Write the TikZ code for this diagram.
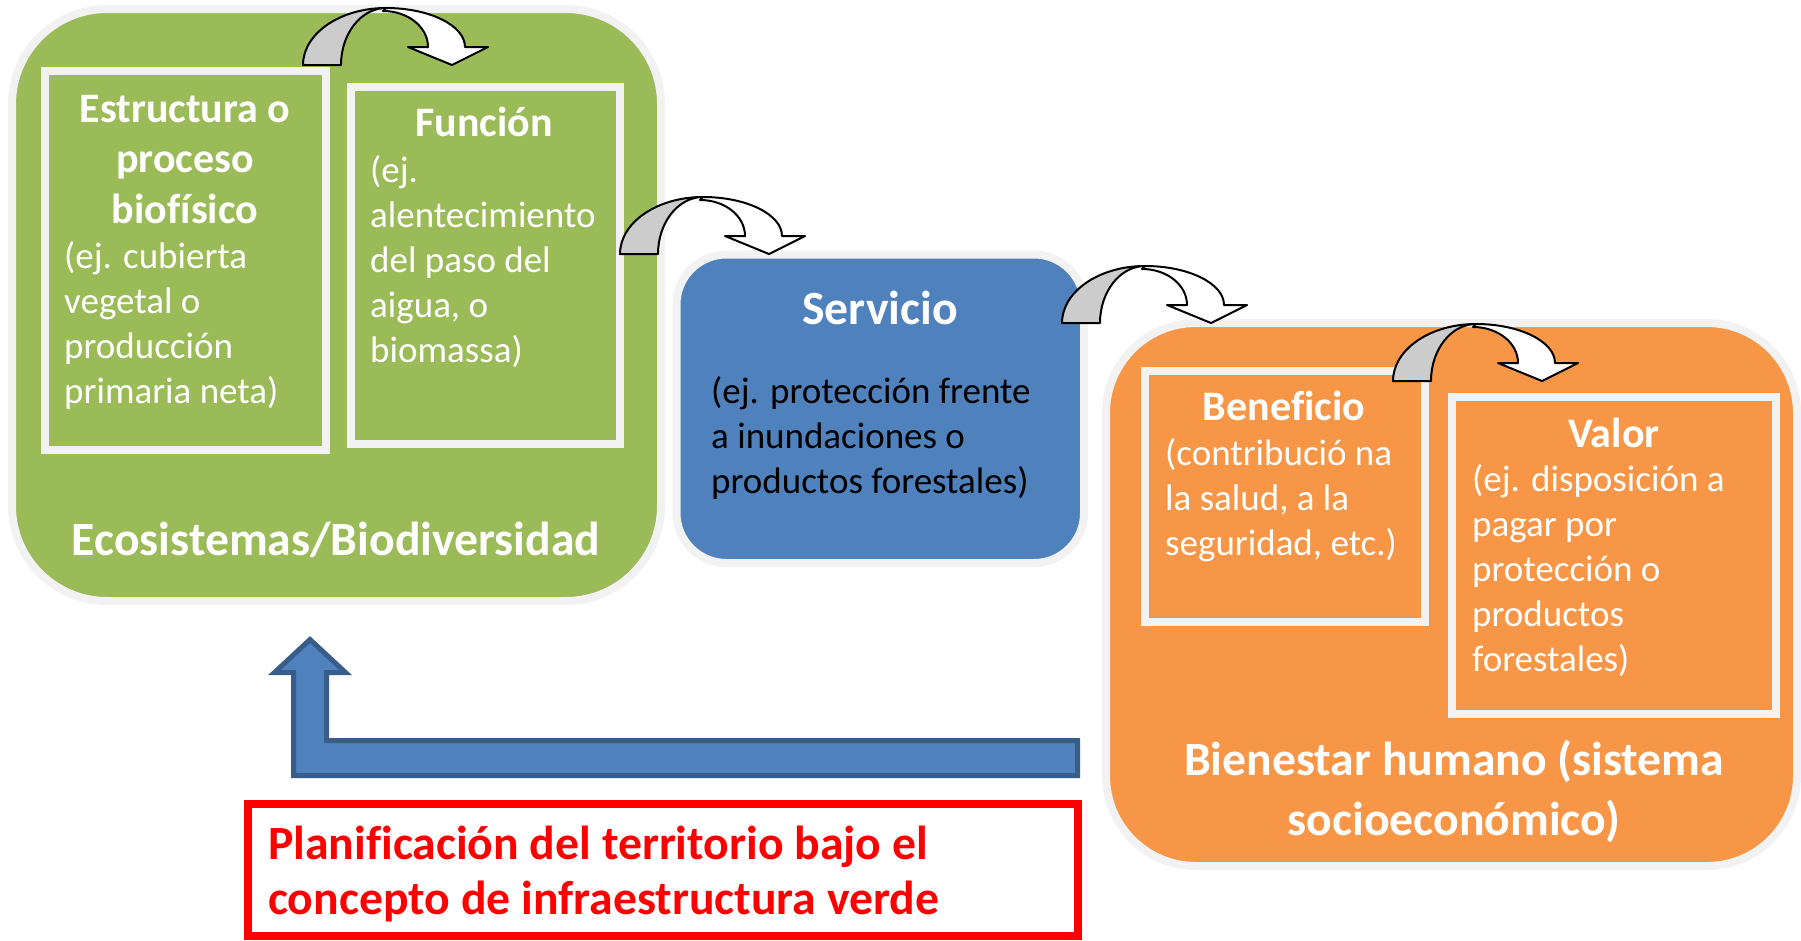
\documentclass[tikz,border=0pt]{standalone}
\usepackage{fontspec}
\setmainfont{Carlito}[Ligatures=NoCommon]
\definecolor{egreen}{HTML}{9BBB59}
\definecolor{eblue}{HTML}{4F81BD}
\definecolor{eorange}{HTML}{F79646}
\definecolor{eborder}{HTML}{F2F2F2}
\definecolor{edark}{HTML}{385D8A}
\definecolor{egrey}{HTML}{CCCCCC}
\definecolor{ered}{HTML}{FF0000}
\newcommand\fsBig{\fontsize{47.7}{57}\selectfont\bfseries}
\newcommand\fsHead{\fontsize{42}{50.5}\selectfont\bfseries}
\newcommand\fsBody{\fontsize{37}{45}\selectfont}
\tikzset{
  outerbox/.style={rectangle, draw=eborder, line width=8pt, inner sep=0pt},
  innerbox/.style={rectangle, draw=eborder, line width=8pt, inner sep=0pt},
  headtxt/.style={font=\fsHead, text=white, align=center, inner sep=0pt, anchor=base},
  bigtxt/.style={font=\fsBig, text=white, align=center, inner sep=0pt, anchor=base},
  bodytxt/.style={font=\fsBody, text=white, align=left, inner sep=0pt, anchor=base west},
  arrowline/.style={draw=black, line width=2pt, line join=round},
  curvarrow/.pic={
    \draw[arrowline, fill=white] (83,-57) .. controls (126.6,-57) and (162,-39.5) .. (162,-18)
      -- (185,-18) -- (149,0) -- (105,-18) -- (125,-18)
      .. controls (125,-38) and (105,-54) .. (80,-54) -- cycle;
    \draw[arrowline, fill=egrey] (0,0) .. controls (0,-31.5) and (37.2,-57) .. (83,-57)
      .. controls (58.2,-57) and (38,-31.5) .. (38,0) -- cycle;
  },
  backarrow/.style={draw=edark, fill=eblue, line width=5pt, line join=miter}
}
\begin{document}
\begin{tikzpicture}[x=1pt,y=-1pt]
\useasboundingbox (0,0) rectangle (1801,940);
% big boxes
\node[outerbox, fill=egreen, minimum width=649pt, minimum height=592pt, rounded corners=95pt] (eco) at (336.5,305) {};
\node[outerbox, fill=eblue, minimum width=407.5pt, minimum height=308.5pt, rounded corners=50pt] (serv) at (880.25,408.75) {};
\node[outerbox, fill=eorange, minimum width=691pt, minimum height=543pt, rounded corners=90pt] (bien) at (1451.5,594.5) {};
% inner boxes
\node[innerbox, minimum width=281pt, minimum height=379pt] (estr) at (185.5,260.5) {};
\node[innerbox, minimum width=269pt, minimum height=357pt] (func) at (485.5,265.5) {};
\node[innerbox, minimum width=279.5pt, minimum height=251pt] (bene) at (1284.75,496.5) {};
\node[innerbox, minimum width=324pt, minimum height=317pt] (valor) at (1614,555.5) {};
% texts (multi-line nodes: base = last line)
\node[headtxt] (estrh) at (185,223) {Estructura o\\proceso\\biofísico};
\node[bodytxt] (estrb) at (64,403) {(ej. cubierta\\vegetal o\\producción\\primaria neta)};
\node[headtxt] (funch) at (484,136) {Función};
\node[bodytxt] (funcb) at (370,362) {(ej.\\alentecimiento\\del paso del\\aigua, o\\biomassa)};
\node[bigtxt] (ecot) at (336,555) {Ecosistemas/Biodiversidad};
\node[bigtxt] (servh) at (880,324) {Servicio};
\node[bodytxt, text=black] (servb) at (711,493) {(ej. protección frente\\a inundaciones o\\productos forestales)};
\node[headtxt] (beneh) at (1284,420) {Beneficio};
\node[bodytxt] (beneb) at (1165,555) {(contribució na\\la salud, a la\\seguridad, etc.)};
\node[headtxt] (valorh) at (1614,447) {Valor};
\node[bodytxt] (valorb) at (1472,671) {(ej. disposición a\\pagar por\\protección o\\productos\\forestales)};
\node[bigtxt, font=\fontsize{47.7}{60}\selectfont\bfseries] (bient) at (1454,835) {Bienestar humano (sistema\\socioeconómico)};
% curved arrows
\pic at (303,65) {curvarrow};
\pic at (620,254) {curvarrow};
\pic at (1062,323) {curvarrow};
\pic at (1393,381) {curvarrow};
% feedback arrow
\coordinate (fbend) at (1077.5,758);
\draw[backarrow] (310,639.5) -- (345.5,672.5) -- (326.5,672.5) -- (326.5,740.5)
  -- (fbend |- 0,740.5) -- (fbend |- 0,775.5) -- (293.5,775.5) -- (293.5,672.5) -- (274.5,672.5) -- cycle;
% planning box
\node[rectangle, draw=ered, line width=8pt, minimum width=829.5pt, minimum height=132pt] (plan) at (662.75,870) {};
\node[font=\fontsize{47.7}{55}\selectfont\bfseries, text=ered, align=left, inner sep=0pt, anchor=base west] (plant) at (268,914) {Planificación del territorio bajo el\\concepto de infraestructura verde};
\end{tikzpicture}
\end{document}
